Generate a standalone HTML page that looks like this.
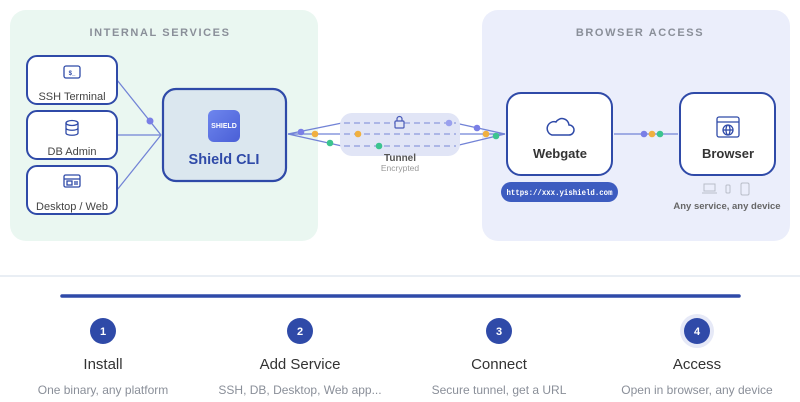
<!DOCTYPE html>
<html><head><meta charset="utf-8"><style>
html,body{margin:0;padding:0;background:#fff;width:800px;height:402px;overflow:hidden;font-family:"Liberation Sans",sans-serif}
</style></head><body>
<svg width="800" height="402" viewBox="0 0 800 402" xmlns="http://www.w3.org/2000/svg" font-family="Liberation Sans, sans-serif">
<defs>
<linearGradient id="lg" x1="0" y1="0" x2="1" y2="1"><stop offset="0" stop-color="#6e86ee"/><stop offset="1" stop-color="#4a5fd6"/></linearGradient>
</defs>
<rect x="10" y="10" width="308" height="231" rx="16" fill="#eaf7f1"/>
<rect x="482" y="10" width="308" height="231" rx="16" fill="#ebeefb"/>
<text x="160" y="36" text-anchor="middle" font-size="11" font-weight="bold" fill="#8a8f99" letter-spacing="1.6">INTERNAL SERVICES</text>
<text x="640" y="36" text-anchor="middle" font-size="11" font-weight="bold" fill="#8a8f99" letter-spacing="1.6">BROWSER ACCESS</text>

<g stroke="#7283d6" stroke-width="1.3" fill="none">
<line x1="117" y1="80" x2="161" y2="135"/><line x1="117" y1="135" x2="161" y2="135"/><line x1="117" y1="190" x2="161" y2="135"/>
<line x1="288" y1="134" x2="342" y2="123"/><line x1="288" y1="134" x2="342" y2="134"/><line x1="288" y1="134" x2="342" y2="146"/>
<line x1="455" y1="123" x2="505" y2="134"/><line x1="455" y1="134" x2="505" y2="134"/><line x1="455" y1="146" x2="505" y2="134"/>
<line x1="614" y1="134" x2="678" y2="134"/>
</g>
<circle cx="150" cy="121" r="3.5" fill="#7a7fe6"/>

<g fill="#fff" stroke="#2f4aa8" stroke-width="2">
<rect x="27" y="56" width="90" height="48" rx="10"/>
<rect x="27" y="111" width="90" height="48" rx="10"/>
<rect x="27" y="166" width="90" height="48" rx="10"/>
</g>
<g stroke="#2f4aa8" stroke-width="1.3" fill="none">
<rect x="64" y="66" width="16" height="12" rx="2"/>
<ellipse cx="72" cy="123" rx="6" ry="2.5"/><path d="M66 123v10c0 3 12 3 12 0v-10M66 128c0 3 12 3 12 0"/>
<rect x="64" y="175" width="16" height="12" rx="1.5"/><line x1="64" y1="179" x2="80" y2="179"/><rect x="67" y="181" width="5" height="4"/><line x1="74" y1="182" x2="78" y2="182"/><line x1="74" y1="184" x2="78" y2="184"/>
</g>
<text x="72" y="75" text-anchor="middle" font-size="6" font-weight="bold" fill="#2f4aa8">$_</text>
<g font-size="11" fill="#444" text-anchor="middle">
<text x="72" y="100">SSH Terminal</text><text x="72" y="155">DB Admin</text><text x="72" y="210">Desktop / Web</text>
</g>

<rect x="163" y="89" width="123" height="92" rx="13" fill="#dbe7ef" stroke="#2f4aa8" stroke-width="2.2"/>
<rect x="208" y="110" width="32" height="32" rx="6" fill="url(#lg)"/>
<text x="224" y="128" text-anchor="middle" font-size="7" font-weight="bold" fill="#fff">SHIELD</text>
<text x="224" y="164" text-anchor="middle" font-size="14.5" font-weight="bold" fill="#2f4aa8">Shield CLI</text>

<rect x="340" y="113" width="120" height="43" rx="12" fill="#e1e5f6"/>
<g stroke="#8d9bdd" stroke-width="1.3" stroke-dasharray="6 4">
<line x1="344" y1="123" x2="456" y2="123"/><line x1="344" y1="134" x2="456" y2="134"/><line x1="344" y1="146" x2="456" y2="146"/>
</g>
<rect x="395" y="121" width="9" height="7" rx="1" fill="#e1e5f6" stroke="#4a5bb8" stroke-width="1.2"/>
<path d="M397 121v-2a2.5 2.5 0 0 1 5 0v2" fill="none" stroke="#4a5bb8" stroke-width="1.2"/>
<text x="400" y="161" text-anchor="middle" font-size="10" font-weight="bold" fill="#555">Tunnel</text>
<text x="400" y="171" text-anchor="middle" font-size="8.5" fill="#999">Encrypted</text>

<circle cx="301" cy="132" r="3.3" fill="#7a7fe6"/><circle cx="315" cy="134" r="3.3" fill="#f0b040"/><circle cx="330" cy="143" r="3.3" fill="#3cc48f"/>
<circle cx="358" cy="134" r="3.3" fill="#f0b040"/><circle cx="379" cy="146" r="3.3" fill="#3cc48f"/>
<circle cx="449" cy="123" r="3.3" fill="#9aa0ee"/><circle cx="477" cy="128" r="3.3" fill="#7a7fe6"/><circle cx="486" cy="134" r="3.3" fill="#f0b040"/><circle cx="496" cy="136" r="3.3" fill="#3cc48f"/>
<circle cx="644" cy="134" r="3.3" fill="#7a7fe6"/><circle cx="652" cy="134" r="3.3" fill="#f0b040"/><circle cx="660" cy="134" r="3.3" fill="#3cc48f"/>

<rect x="507" y="93" width="105" height="82" rx="14" fill="#fff" stroke="#2f4aa8" stroke-width="2"/>
<path d="M552 135h17a5 5 0 0 0 0-10a7 7 0 0 0-13-3a5 5 0 0 0-4 13z" fill="none" stroke="#2f4aa8" stroke-width="1.5"/>
<text x="560" y="158" text-anchor="middle" font-size="13" font-weight="bold" fill="#333">Webgate</text>
<rect x="501" y="182" width="117" height="20" rx="10" fill="#3d5cc0"/>
<text x="559.5" y="195" text-anchor="middle" font-size="7.8" font-weight="bold" font-family="Liberation Mono, monospace" fill="#fff" textLength="106" lengthAdjust="spacingAndGlyphs">https://xxx.yishield.com</text>

<rect x="680" y="93" width="95" height="82" rx="14" fill="#fff" stroke="#2f4aa8" stroke-width="2"/>
<g stroke="#2f4aa8" stroke-width="1.3" fill="none">
<rect x="717" y="117" width="22" height="20" rx="2"/><line x1="717" y1="122" x2="739" y2="122"/>
<circle cx="728" cy="130" r="5"/><line x1="723" y1="130" x2="733" y2="130"/><ellipse cx="728" cy="130" rx="2" ry="5"/>
</g>
<text x="728" y="158" text-anchor="middle" font-size="13" font-weight="bold" fill="#333">Browser</text>
<g stroke="#b8bdc8" stroke-width="1" fill="none">
<rect x="704" y="184" width="11" height="7"/><line x1="702" y1="193" x2="717" y2="193"/>
<rect x="726" y="185" width="4" height="8" rx="1"/>
<rect x="741" y="183" width="8" height="12" rx="1.5"/>
</g>
<text x="727" y="209" text-anchor="middle" font-size="9.5" font-weight="bold" fill="#666">Any service, any device</text>

<line x1="0" y1="276" x2="800" y2="276" stroke="#e2e8f0" stroke-width="1.5"/>
<line x1="62" y1="296" x2="739" y2="296" stroke="#2f4aa8" stroke-width="3.5" stroke-linecap="round"/>
<circle cx="697" cy="331" r="17" fill="#e6e9f7"/>
<g fill="#2f4aa8"><circle cx="103" cy="331" r="13"/><circle cx="300" cy="331" r="13"/><circle cx="499" cy="331" r="13"/><circle cx="697" cy="331" r="13"/></g>
<g fill="#fff" font-size="11" font-weight="bold" text-anchor="middle">
<text x="103" y="335">1</text><text x="300" y="335">2</text><text x="499" y="335">3</text><text x="697" y="335">4</text>
</g>
<g fill="#333" font-size="15" text-anchor="middle">
<text x="103" y="369">Install</text><text x="300" y="369">Add Service</text><text x="499" y="369">Connect</text><text x="697" y="369">Access</text>
</g>
<g fill="#8a8f99" font-size="12" text-anchor="middle">
<text x="103" y="394">One binary, any platform</text><text x="300" y="394">SSH, DB, Desktop, Web app...</text><text x="499" y="394">Secure tunnel, get a URL</text><text x="697" y="394">Open in browser, any device</text>
</g>
</svg>
</body></html>
